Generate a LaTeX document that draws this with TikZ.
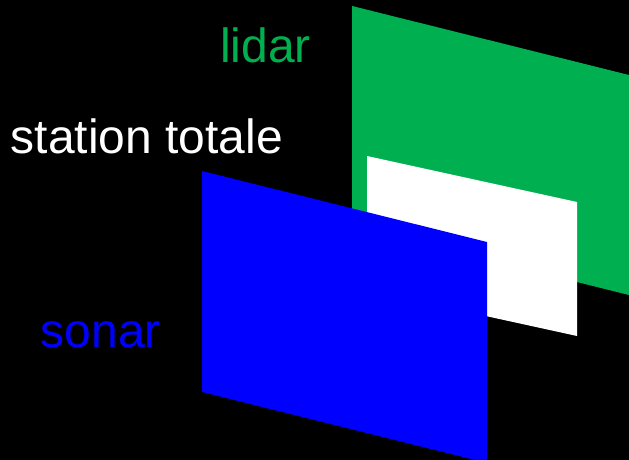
\documentclass[tikz,border=0pt]{standalone}
\usepackage{fontspec}
\setmainfont{Liberation Sans}
\definecolor{lgreen}{HTML}{00B050}
\definecolor{sblue}{HTML}{0000FF}
\begin{document}
\begin{tikzpicture}[x=1pt,y=-1pt,
  lbl/.style={anchor=base west,inner sep=0pt,font=\fontsize{48}{48}\selectfont}]
\useasboundingbox (0,0) rectangle (629,460);
\fill[black] (0,0) rectangle (629,460);
% lidar plane
\fill[lgreen] (352,6) -- (629,75) -- (629,295) -- (352,226) -- cycle;
% station totale plane
\fill[white] (367,156) -- (577,202) -- (577,336) -- (367,290) -- cycle;
% sonar plane
\fill[sblue] (202,171) -- (487,242) -- (487,463) -- (202,392) -- cycle;
\node[lbl,text=lgreen] (lidar) at (220,63) {lidar};
\node[lbl,text=white] (station) at (10.5,153) {station totale};
\node[lbl,text=sblue] (sonar) at (40.5,347) {sonar};
\end{tikzpicture}
\end{document}
